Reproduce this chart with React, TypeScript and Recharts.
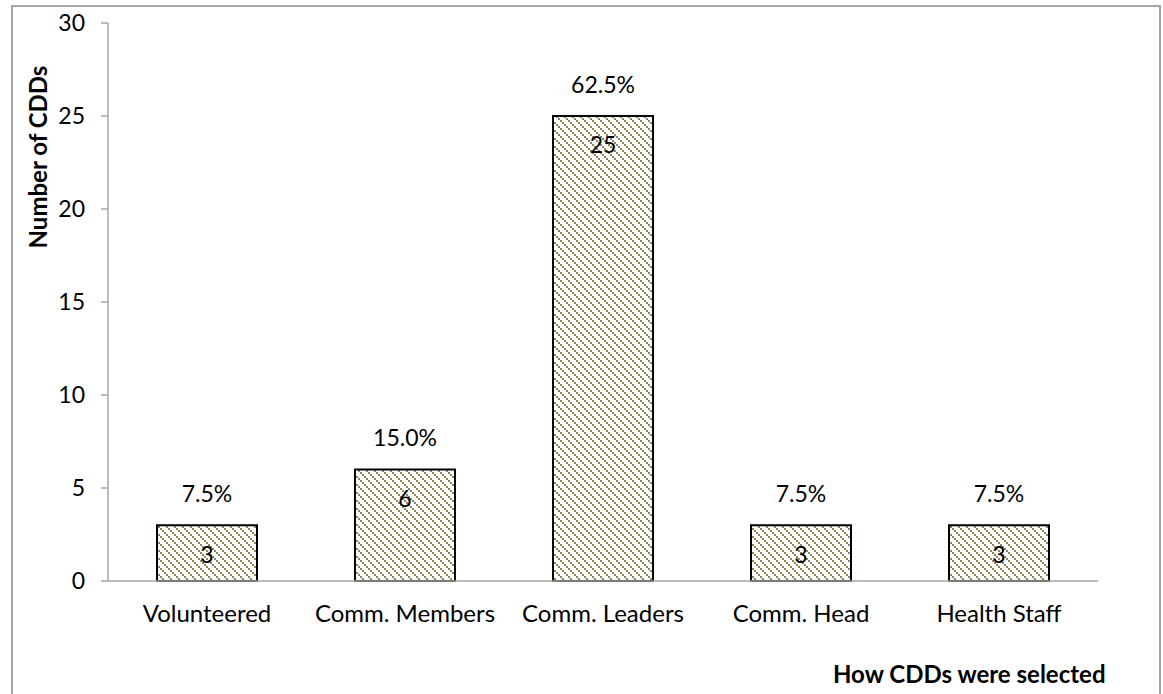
import { BarChart, Bar, XAxis, YAxis, LabelList } from 'recharts'

const categories = ['Volunteered', 'Comm. Members', 'Comm. Leaders', 'Comm. Head', 'Health Staff']
const counts = [3, 6, 25, 3, 3]
const percents = ['7.5%', '15.0%', '62.5%', '7.5%', '7.5%']
const yTicks = [0, 5, 10, 15, 20, 25, 30]

const data = categories.map((name, i) => ({ name, count: counts[i], pct: percents[i] }))

const FONT = 'Lato, "Open Sans", sans-serif'
const HATCH = '#8e8759'

export default function App() {
  return (
    <div style={{ position: 'absolute', left: 0, top: 0, width: 1163, height: 694, background: '#fff', overflow: 'hidden' }}>
      <div
        style={{
          position: 'absolute',
          left: 11,
          top: 5,
          width: 1150,
          height: 700,
          border: '2px solid #a6a6a6',
          boxSizing: 'border-box',
        }}
      />
      <div style={{ position: 'absolute', left: 0, top: 0 }}>
        <BarChart width={1163} height={694} data={data} margin={{ top: 23, right: 65, left: 48, bottom: 83 }}>
          <defs>
            <pattern id="hatch" width="8" height="8" patternUnits="userSpaceOnUse">
              <rect width="8" height="8" fill="#ffffff" />
              <rect x="0" y="0" width="2" height="2" fill={HATCH} />
              <rect x="2" y="2" width="2" height="2" fill={HATCH} />
              <rect x="4" y="4" width="2" height="2" fill={HATCH} />
              <rect x="6" y="6" width="2" height="2" fill={HATCH} />
            </pattern>
          </defs>
          <XAxis
            dataKey="name"
            axisLine={{ stroke: '#a6a6a6', strokeWidth: 1.5 }}
            tickLine={false}
            tickSize={6}
            tickMargin={18}
            height={30}
            interval={0}
            tick={{ fontSize: 24, fill: '#000', fontFamily: FONT }}
          />
          <YAxis
            domain={[0, 30]}
            ticks={yTicks}
            width={60}
            axisLine={{ stroke: '#a6a6a6', strokeWidth: 1.5 }}
            tickLine={{ stroke: '#a6a6a6', strokeWidth: 1.5 }}
            tickSize={7}
            tickMargin={16}
            tick={{ fontSize: 23, fill: '#000', fontFamily: FONT }}
          />
          <Bar dataKey="count" fill="url(#hatch)" stroke="#000" strokeWidth={2} barSize={100} isAnimationActive={false}>
            <LabelList
              dataKey="count"
              position="insideTop"
              offset={21}
              fill="#000"
              fontSize={23}
              fontFamily={FONT}
              isAnimationActive={false}
            />
            <LabelList
              dataKey="pct"
              position="top"
              offset={23}
              fill="#000"
              fontSize={23}
              fontFamily={FONT}
              isAnimationActive={false}
            />
          </Bar>
        </BarChart>
      </div>
      <svg width={1163} height={694} style={{ position: 'absolute', left: 0, top: 0, pointerEvents: 'none' }}>
        <text
          x={47}
          y={157}
          textAnchor="middle"
          transform="rotate(-90, 47, 157)"
          fontFamily={FONT}
          fontWeight="bold"
          fontSize={24}
          fill="#000"
        >
          Number of CDDs
        </text>
        <text x={833} y={683} fontFamily={FONT} fontWeight="bold" fontSize={24} fill="#000">
          How CDDs were selected
        </text>
      </svg>
    </div>
  )
}
